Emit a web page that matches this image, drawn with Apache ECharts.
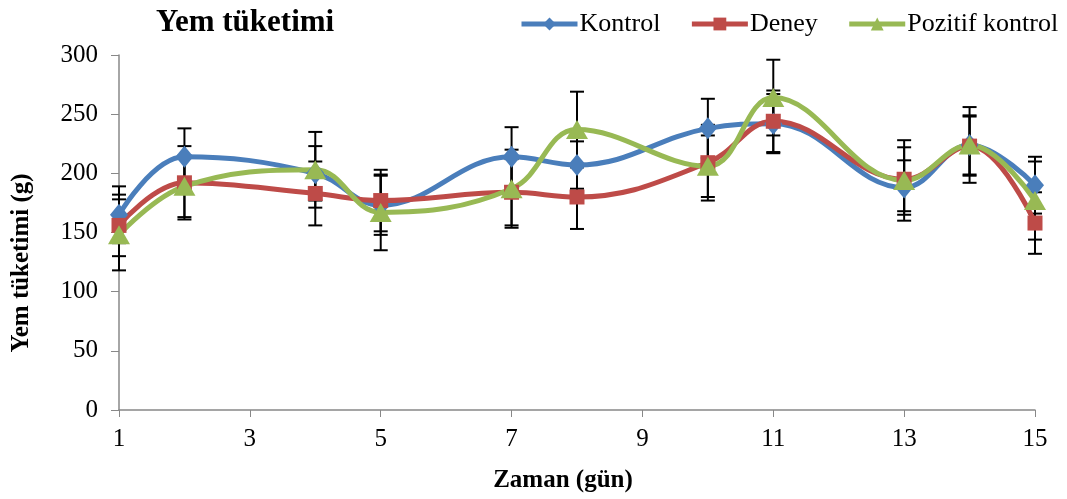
<!DOCTYPE html>
<html>
<head>
<meta charset="utf-8">
<script src="https://cdn.jsdelivr.net/npm/echarts@6/dist/echarts.min.js"></script>
<style>html,body{margin:0;padding:0;background:#fff}#c{width:1067px;height:499px}</style>
</head>
<body>
<div id="c"></div>
<script>
const days = [1, 2, 4, 5, 7, 8, 10, 11, 13, 14, 15];
const kontrol = [165, 214, 200, 173, 214, 207, 238, 242, 188, 224, 190];
const deney = [156, 192, 183, 177, 184, 180, 209, 244, 195, 223, 158];
const pozitif = [148, 189, 203, 167, 187, 237, 206, 264, 194, 224, 177];
const kontrolSD = [24, 24, 23, 25, 25, 20, 25, 25, 23, 32, 24];
const deneySD = [26, 31, 27, 26, 28, 27, 32, 26, 27, 25, 26];
const pozitifSD = [30, 26, 32, 32, 33, 32, 26, 32, 34, 25, 33];
const xTicks = [1, 3, 5, 7, 9, 11, 13, 15];
const seriesNames = ['Kontrol', 'Deney', 'Pozitif kontrol'];
const colors = ['#4A7EBB', '#BE4B48', '#98B954'];

const FONT = '"Liberation Serif", "Times New Roman", serif';
const chart = echarts.init(document.getElementById('c'), null, {renderer: 'canvas'});

function pts(vals) { return days.map((d, i) => [d, vals[i]]); }
function errData(vals, sd) { return days.map((d, i) => [d, vals[i] - sd[i], vals[i] + sd[i]]); }

function errSeries(vals, sd) {
  return {
    type: 'custom',
    z: 1,
    silent: true,
    data: errData(vals, sd),
    encode: {x: 0, y: [1, 2]},
    renderItem: function (params, api) {
      const x = api.value(0);
      const lo = api.coord([x, api.value(1)]);
      const hi = api.coord([x, api.value(2)]);
      const w = 7;
      const style = {stroke: '#000', lineWidth: 2};
      return {
        type: 'group',
        children: [
          {type: 'line', shape: {x1: lo[0], y1: lo[1], x2: hi[0], y2: hi[1]}, style: style},
          {type: 'line', shape: {x1: lo[0] - w, y1: lo[1], x2: lo[0] + w, y2: lo[1]}, style: style},
          {type: 'line', shape: {x1: hi[0] - w, y1: hi[1], x2: hi[0] + w, y2: hi[1]}, style: style}
        ]
      };
    }
  };
}

function lineSeries(name, vals, color, symbol, size) {
  return {
    name: name,
    type: 'line',
    z: 3,
    data: pts(vals),
    smooth: 0.4,
    symbol: symbol,
    symbolSize: size,
    lineStyle: {width: 5, color: color},
    itemStyle: {color: color},
    showAllSymbol: true
  };
}

chart.setOption({
  animation: false,
  backgroundColor: '#fff',
  color: colors,
  title: {
    text: 'Yem tüketimi',
    left: 151, top: 2,
    textStyle: {fontFamily: FONT, fontSize: 31, fontWeight: 'bold', color: '#000'}
  },
  legend: {
    data: seriesNames,
    left: 514, top: 6,
    itemWidth: 56, itemHeight: 16, itemGap: 29,
    lineStyle: {width: 5},
    textStyle: {fontFamily: FONT, fontSize: 26, color: '#000', padding: [0, 0, 0, -3]}
  },
  grid: {left: 119, right: 32, top: 55, bottom: 89, containLabel: false},
  xAxis: {
    type: 'value', min: 1, max: 15,
    splitLine: {show: false},
    axisLine: {lineStyle: {color: '#888', width: 1.5}},
    axisTick: {show: true, length: 7, lineStyle: {color: '#888'}, customValues: xTicks},
    axisLabel: {customValues: xTicks, fontFamily: FONT, fontSize: 25, color: '#000', margin: 17}
  },
  yAxis: {
    type: 'value', min: 0, max: 300, interval: 50,
    splitLine: {show: false},
    axisLine: {show: true, lineStyle: {color: '#888', width: 1.5}},
    axisTick: {show: true, length: 8, lineStyle: {color: '#888'}},
    axisLabel: {fontFamily: FONT, fontSize: 25, color: '#000', margin: 21}
  },
  graphic: [
    {type: 'text', x: 22, y: 263, rotation: Math.PI / 2,
      style: {text: 'Yem tüketimi (g)', font: 'bold 25px ' + FONT, fill: '#000', align: 'center', verticalAlign: 'middle'}},
    {type: 'text', x: 563, y: 481,
      style: {text: 'Zaman (gün)', font: 'bold 25px ' + FONT, fill: '#000', align: 'center', verticalAlign: 'middle'}}
  ],
  series: [
    errSeries(kontrol, kontrolSD),
    errSeries(deney, deneySD),
    errSeries(pozitif, pozitifSD),
    lineSeries('Kontrol', kontrol, colors[0], 'diamond', [18, 22]),
    lineSeries('Deney', deney, colors[1], 'rect', 15),
    lineSeries('Pozitif kontrol', pozitif, colors[2], 'triangle', [22, 19])
  ]
});
</script>
</body>
</html>
